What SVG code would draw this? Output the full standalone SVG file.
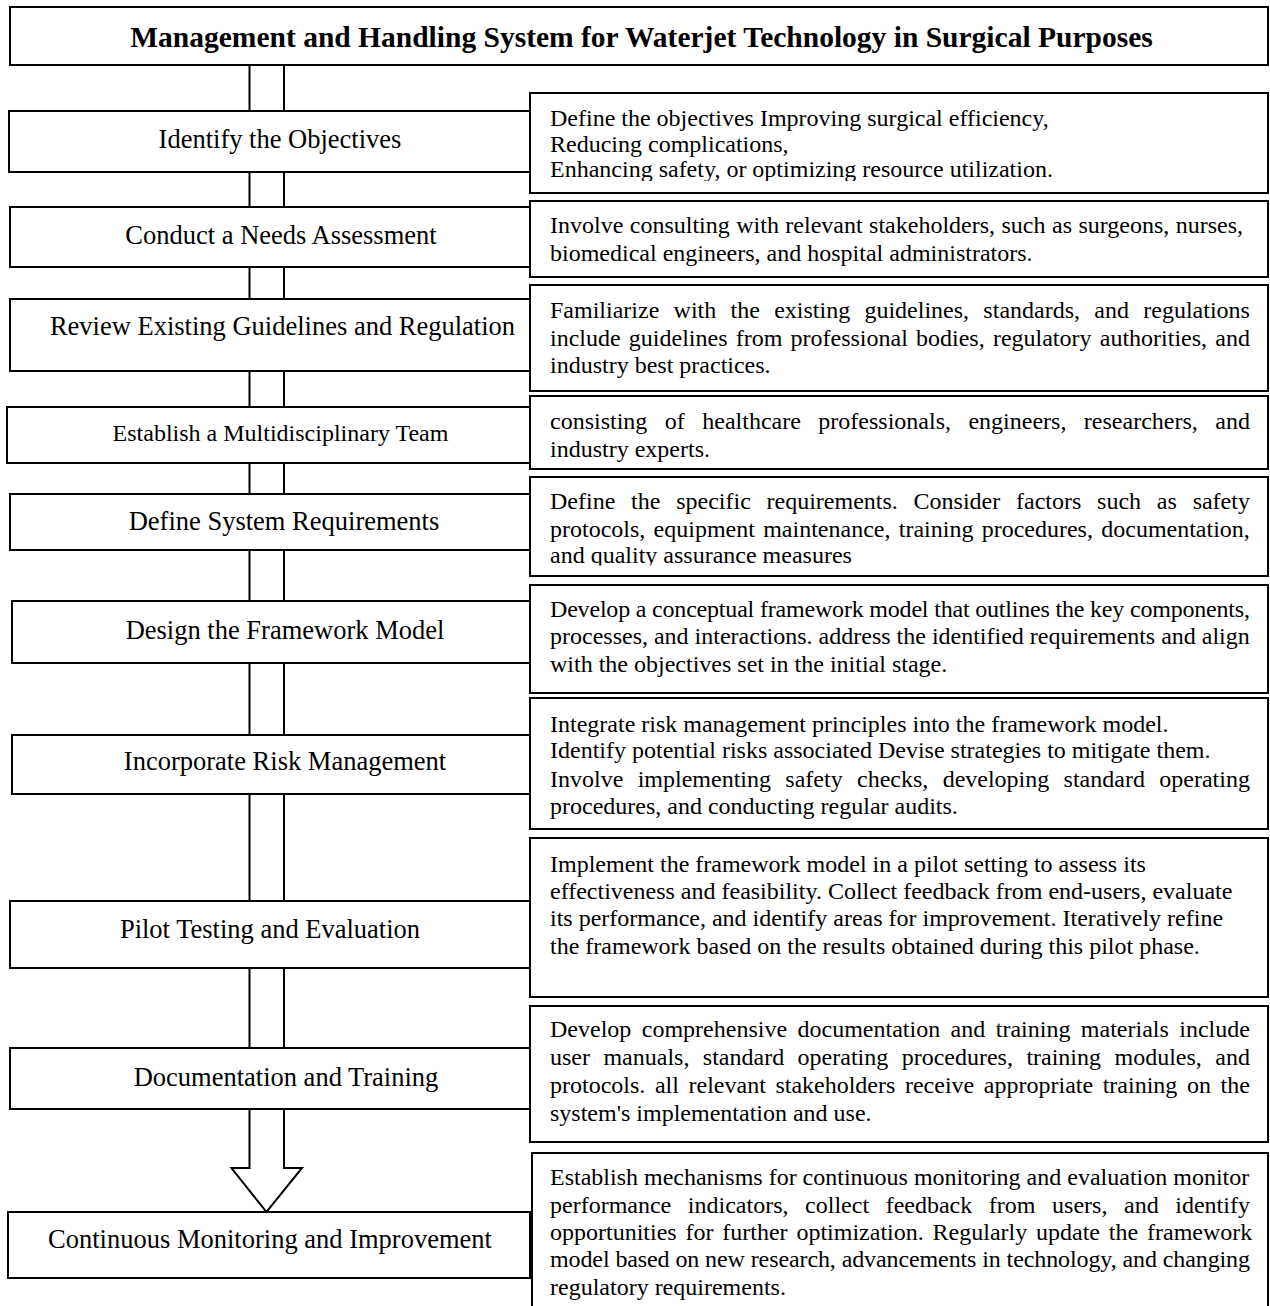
<svg xmlns="http://www.w3.org/2000/svg" width="1270" height="1306" viewBox="0 0 1270 1306">
<style>
.box{fill:#fff;stroke:#000;stroke-width:2}
.con{fill:none;stroke:#000;stroke-width:2}
.ttl{font-family:"Liberation Serif","Times New Roman",serif;font-size:29.5px;font-weight:bold;fill:#000;text-anchor:middle}
.lbl{font-family:"Liberation Serif","Times New Roman",serif;font-size:26.5px;fill:#000;text-anchor:middle}
.lbs{font-family:"Liberation Serif","Times New Roman",serif;font-size:24px;fill:#000;text-anchor:middle}
.txt{font-family:"Liberation Serif","Times New Roman",serif;font-size:24px;fill:#000}
</style>
<defs>
<clipPath id="c1"><rect x="530" y="93" width="738" height="88"/></clipPath>
<clipPath id="c5"><rect x="530" y="477" width="738" height="88.5"/></clipPath>
</defs>
<rect width="1270" height="1306" fill="#fff"/>

<g id="connectors">
<path class="con" d="M249.5,65V111M284,65V111"/>
<path class="con" d="M249.5,172V207M284,172V207"/>
<path class="con" d="M249.5,267V299M284,267V299"/>
<path class="con" d="M249.5,371V407M284,371V407"/>
<path class="con" d="M249.5,463V494M284,463V494"/>
<path class="con" d="M249.5,550V601M284,550V601"/>
<path class="con" d="M249.5,663V735M284,663V735"/>
<path class="con" d="M249.5,794V901M284,794V901"/>
<path class="con" d="M249.5,968V1048M284,968V1048"/>
<path class="con" d="M249.5,1109V1168H231.5L266.5,1212L302,1168H284V1109" style="fill:#fff"/>
</g>

<g id="title">
<rect class="box" x="10" y="7" width="1258" height="58"/>
<text class="ttl" x="641.5" y="47">Management and Handling System for Waterjet Technology in Surgical Purposes</text>
</g>

<g id="step1">
<rect class="box" x="9" y="111" width="521" height="61"/>
<text class="lbl" x="280" y="148">Identify the Objectives</text>
</g>
<g id="desc1">
<rect class="box" x="530" y="93" width="738" height="100"/>
<g clip-path="url(#c1)">
<text class="txt" x="550" y="126">Define the objectives Improving surgical efficiency,</text>
<text class="txt" x="550" y="152">Reducing complications,</text>
<text class="txt" x="550" y="177">Enhancing safety, or optimizing resource utilization.</text>
</g>
</g>

<g id="step2">
<rect class="box" x="10" y="207" width="520" height="60"/>
<text class="lbl" x="281" y="244">Conduct a Needs Assessment</text>
</g>
<g id="desc2">
<rect class="box" x="530" y="201" width="738" height="76"/>
<text class="txt" x="550" y="233" word-spacing="0.46">Involve consulting with relevant stakeholders, such as surgeons, nurses,</text>
<text class="txt" x="550" y="261">biomedical engineers, and hospital administrators.</text>
</g>

<g id="step3">
<rect class="box" x="10" y="299" width="520" height="72"/>
<text class="lbl" x="282.5" y="335">Review Existing Guidelines and Regulation</text>
</g>
<g id="desc3">
<rect class="box" x="530" y="285" width="738" height="106"/>
<text class="txt" x="550" y="318" word-spacing="8.29">Familiarize with the existing guidelines, standards, and regulations</text>
<text class="txt" x="550" y="346" word-spacing="2.2">include guidelines from professional bodies, regulatory authorities, and</text>
<text class="txt" x="550" y="373">industry best practices.</text>
</g>

<g id="step4">
<rect class="box" x="7" y="407" width="523" height="56"/>
<text class="lbs" x="280.5" y="441">Establish a Multidisciplinary Team</text>
</g>
<g id="desc4">
<rect class="box" x="530" y="396" width="738" height="73"/>
<text class="txt" x="550" y="429" word-spacing="11.47">consisting of healthcare professionals, engineers, researchers, and</text>
<text class="txt" x="550" y="457">industry experts.</text>
</g>

<g id="step5">
<rect class="box" x="10" y="494" width="520" height="56"/>
<text class="lbl" x="284" y="530">Define System Requirements</text>
</g>
<g id="desc5">
<rect class="box" x="530" y="477" width="738" height="99"/>
<g clip-path="url(#c5)">
<text class="txt" x="550" y="509" word-spacing="9.77">Define the specific requirements. Consider factors such as safety</text>
<text class="txt" x="550" y="537" word-spacing="2.28">protocols, equipment maintenance, training procedures, documentation,</text>
<text class="txt" x="550" y="563">and quality assurance measures</text>
</g>
</g>

<g id="step6">
<rect class="box" x="12" y="601" width="518" height="62"/>
<text class="lbl" x="285" y="639">Design the Framework Model</text>
</g>
<g id="desc6">
<rect class="box" x="530" y="585" width="738" height="108"/>
<text class="txt" x="550" y="617" textLength="700" lengthAdjust="spacing">Develop a conceptual framework model that outlines the key components,</text>
<text class="txt" x="550" y="644">processes, and interactions. address the identified requirements and align</text>
<text class="txt" x="550" y="672">with the objectives set in the initial stage.</text>
</g>

<g id="step7">
<rect class="box" x="12" y="735" width="518" height="59"/>
<text class="lbl" x="285" y="770">Incorporate Risk Management</text>
</g>
<g id="desc7">
<rect class="box" x="530" y="698" width="738" height="131"/>
<text class="txt" x="550" y="732">Integrate risk management principles into the framework model.</text>
<text class="txt" x="550" y="758">Identify potential risks associated Devise strategies to mitigate them.</text>
<text class="txt" x="550" y="787" word-spacing="8.35">Involve implementing safety checks, developing standard operating</text>
<text class="txt" x="550" y="814">procedures, and conducting regular audits.</text>
</g>

<g id="step8">
<rect class="box" x="10" y="901" width="520" height="67"/>
<text class="lbl" x="270" y="938">Pilot Testing and Evaluation</text>
</g>
<g id="desc8">
<rect class="box" x="530" y="838" width="738" height="159"/>
<text class="txt" x="550" y="872">Implement the framework model in a pilot setting to assess its</text>
<text class="txt" x="550" y="899">effectiveness and feasibility. Collect feedback from end-users, evaluate</text>
<text class="txt" x="550" y="926">its performance, and identify areas for improvement. Iteratively refine</text>
<text class="txt" x="550" y="954">the framework based on the results obtained during this pilot phase.</text>
</g>

<g id="step9">
<rect class="box" x="10" y="1048" width="520" height="61"/>
<text class="lbl" x="286" y="1086">Documentation and Training</text>
</g>
<g id="desc9">
<rect class="box" x="530" y="1006" width="738" height="136"/>
<text class="txt" x="550" y="1037" word-spacing="4.47">Develop comprehensive documentation and training materials include</text>
<text class="txt" x="550" y="1065" word-spacing="7.44">user manuals, standard operating procedures, training modules, and</text>
<text class="txt" x="550" y="1093" word-spacing="3.6">protocols. all relevant stakeholders receive appropriate training on the</text>
<text class="txt" x="550" y="1121">system's implementation and use.</text>
</g>

<g id="step10">
<rect class="box" x="8" y="1212" width="522" height="66"/>
<text class="lbl" x="270" y="1248">Continuous Monitoring and Improvement</text>
</g>
<g id="desc10">
<path class="box" d="M532,1310V1153H1268V1310"/>
<text class="txt" x="550" y="1185">Establish mechanisms for continuous monitoring and evaluation monitor</text>
<text class="txt" x="550" y="1213" word-spacing="10.6">performance indicators, collect feedback from users, and identify</text>
<text class="txt" x="550" y="1240" word-spacing="2.83">opportunities for further optimization. Regularly update the framework</text>
<text class="txt" x="550" y="1267" textLength="700" lengthAdjust="spacing">model based on new research, advancements in technology, and changing</text>
<text class="txt" x="550" y="1295">regulatory requirements.</text>
</g>
</svg>
